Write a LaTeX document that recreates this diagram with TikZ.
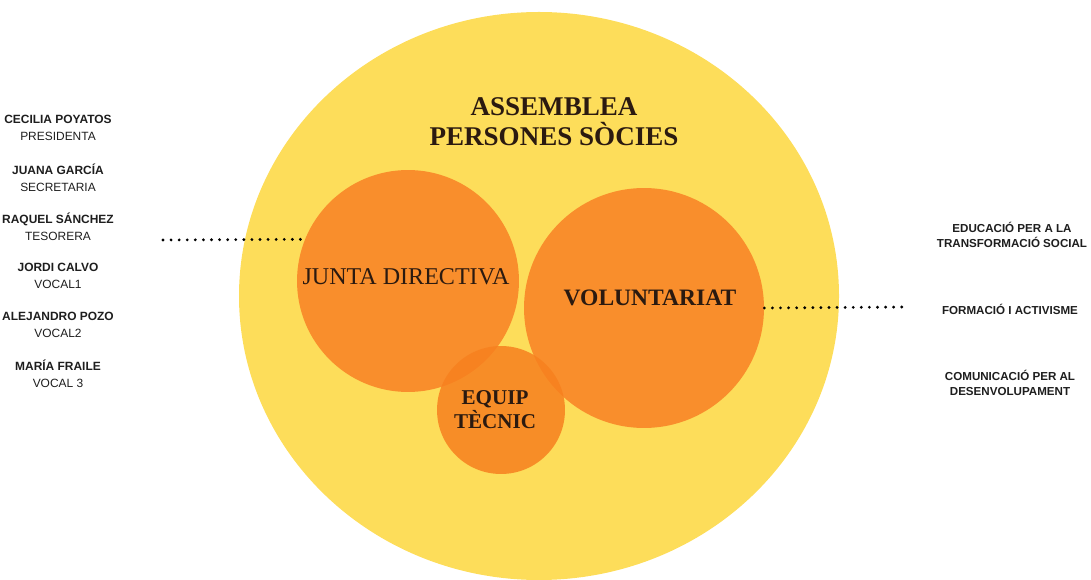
\documentclass[tikz,border=0pt]{standalone}
\usepackage{fontspec}
\setmainfont{Liberation Serif}
\newfontfamily\sidefont{Liberation Sans}
\usepackage{tikz}

\definecolor{assyellow}{HTML}{FDDD5A}
\definecolor{circorange}{HTML}{F98E2C}
\definecolor{equiporange}{HTML}{F7801F}
\definecolor{titlebrown}{HTML}{2B1A10}
\definecolor{sidegray}{HTML}{1E1E1E}

\begin{document}
\begin{tikzpicture}[x=0.02cm,y=-0.02cm,
  circ/.style={circle,fill=circorange,inner sep=0pt},
  intext/.style={text=titlebrown,align=center,font=\bfseries\fontsize{13.4}{13.6}\selectfont},
  sidename/.style={text=sidegray,align=center,font=\sidefont\fontsize{6.8}{9.6}\selectfont},
  dots/.style={line width=1.8pt,line cap=round,dash pattern=on 0pt off 4.6pt}]
\useasboundingbox (0,0) rectangle (1091,580);
\fill[assyellow] (539,296) ellipse [x radius=300, y radius=284];
\node[text=titlebrown,align=center,font=\bfseries\fontsize{15.4}{17}\selectfont] (title) at (554,122) {ASSEMBLEA\\PERSONES SÒCIES};
\node[circ,minimum size=4.44cm] (junta) at (408,281) {};
\node[circ,minimum size=4.8cm] (vol) at (644,308) {};
\node[circle,fill=equiporange,fill opacity=0.85,inner sep=0pt,minimum size=2.56cm] (equip) at (501,410) {};
\node[text=titlebrown,font=\fontsize{13.7}{15}\selectfont] (juntatxt) at (406,277) {JUNTA DIRECTIVA};
\node[intext] (voltxt) at (650,298) {VOLUNTARIAT};
\node[intext,font=\bfseries\fontsize{12}{13.6}\selectfont] (equiptxt) at (495,410) {EQUIP\\TÈCNIC};
% junta directiva
\foreach \n/\r/\y [count=\i] in {CECILIA POYATOS/PRESIDENTA/128,JUANA GARCÍA/SECRETARIA/178,RAQUEL SÁNCHEZ/TESORERA/227,JORDI CALVO/VOCAL1/276,ALEJANDRO POZO/VOCAL2/325,MARÍA FRAILE/VOCAL 3/374}
  \node[sidename] (p\i) at (58,\y) {\textbf{\n}\\\r};
% voluntariat
\node[sidename,font=\sidefont\bfseries\fontsize{6.6}{8.7}\selectfont] (educ) at (1012,235) {EDUCACIÓ PER A LA\\TRANSFORMACIÓ SOCIAL};
\node[sidename,font=\sidefont\bfseries\fontsize{6.6}{8.7}\selectfont] (form) at (1010,309) {FORMACIÓ I ACTIVISME};
\node[sidename,font=\sidefont\bfseries\fontsize{6.6}{8.7}\selectfont] (comu) at (1010,383) {COMUNICACIÓ PER AL\\DESENVOLUPAMENT};
\coordinate (lstart) at (163,240);
\coordinate (rend) at (907,307);
\draw[dots] (lstart) -- (junta.158);
\draw[dots] (vol.east) -- (rend);
\end{tikzpicture}
\end{document}
